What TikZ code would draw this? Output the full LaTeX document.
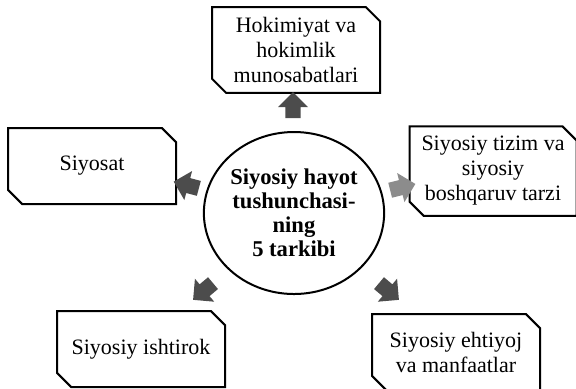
\documentclass[tikz,border=0pt]{standalone}
\usepackage{fontspec}
\setmainfont{Liberation Serif}
\usetikzlibrary{shapes.misc,shapes.geometric,shapes.arrows}

\tikzset{
  part/.style={chamfered rectangle, chamfered rectangle corners={north east,south west},
    chamfered rectangle xsep=4pt, draw, line width=1pt, align=center,
    minimum width=84pt, minimum height=38pt, inner sep=2pt,
    font=\fontsize{11}{12.5}\selectfont},
  core/.style={ellipse, draw, line width=1pt, align=center, minimum width=90pt,
    minimum height=81pt, inner sep=0pt, font=\bfseries\fontsize{11.3}{12}\selectfont},
  blob/.style={single arrow, fill=black!70, inner sep=3.5pt, minimum height=13pt,
    minimum width=15pt, single arrow head extend=3.5pt}
}

\begin{document}
\begin{tikzpicture}[x=0.5pt, y=-0.5pt]
  \useasboundingbox (0,0) rectangle (576,388);
  % centre
  \node[core] (life) at (294,213) {Siyosiy hayot\\tushunchasi-\\ning\\5 tarkibi};
  % the five parts
  \node[part, minimum height=40pt] (power) at (296,50) {Hokimiyat va\\hokimlik\\munosabatlari};
  \node[part] (policy) at (92,166) {Siyosat};
  \node[part, minimum width=81pt] (system) at (493,171) {Siyosiy tizim va\\siyosiy\\boshqaruv tarzi};
  \node[part] (share) at (141,349) {Siyosiy ishtirok};
  \node[part] (needs) at (456,352) {Siyosiy ehtiyoj\\va manfaatlar};
  % arrows
  \node[blob, rotate=90] (toPower) at (293,109) {};
  \node[blob, rotate=165] (toPolicy) at (190,186) {};
  \node[blob, rotate=14, fill=black!45] (toSystem) at (399,188) {};
  \node[blob, rotate=220] (toShare) at (206,289) {};
  \node[blob, rotate=320] (toNeeds) at (386,289) {};
\end{tikzpicture}
\end{document}
